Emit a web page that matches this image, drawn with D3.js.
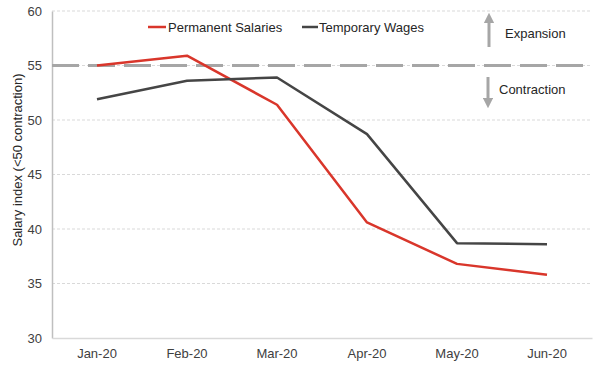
<!DOCTYPE html>
<html>
<head>
<meta charset="utf-8">
<script src="https://cdn.jsdelivr.net/npm/d3@7"></script>
<style>
body{margin:0;background:#fff;}
text{font-family:"Liberation Sans",Arial,sans-serif;}
</style>
</head>
<body>
<svg id="chart" width="600" height="391"></svg>
<script>
const categories = ["Jan-20","Feb-20","Mar-20","Apr-20","May-20","Jun-20"];
const permanentSalaries = [55.0, 55.9, 51.4, 40.6, 36.8, 35.8];
const temporaryWages = [51.9, 53.6, 53.9, 48.7, 38.7, 38.6];
const yTicks = [30,35,40,45,50,55,60];
const thresholdValue = 55;
const seriesNames = ["Permanent Salaries","Temporary Wages"];
const seriesColors = ["#d9362b","#454545"];

(function(){
const svg = d3.select("#chart");
const pL = 52, pR = 592, pT = 11, pB = 338;

const x = d3.scaleBand().domain(categories).range([pL, pR]);
const y = d3.scaleLinear().domain([30, 60]).range([pB, pT]);

// gridlines
svg.append("g").selectAll("line").data(yTicks.filter(d => d !== 30)).join("line")
  .attr("x1", pL).attr("x2", pR)
  .attr("y1", d => y(d)).attr("y2", d => y(d))
  .attr("stroke", "#d9d9d9").attr("stroke-width", 1).attr("stroke-dasharray", "3,2");

// y axis
const yAxis = svg.append("g").attr("transform", `translate(${pL},0)`)
  .call(d3.axisLeft(y).tickValues(yTicks).tickSize(0).tickPadding(10));
yAxis.select(".domain").attr("stroke", "#bfbfbf").attr("stroke-width", 1.5);
yAxis.selectAll("text").attr("font-size", 13).attr("fill", "#404040")
  .attr("font-family", "Liberation Sans, Arial, sans-serif");

// x axis
const xAxis = svg.append("g").attr("transform", `translate(0,${pB})`)
  .call(d3.axisBottom(x).tickSize(0).tickPadding(11));
xAxis.select(".domain").attr("stroke", "#d9d9d9").attr("stroke-width", 1.5);
xAxis.selectAll("text").attr("font-size", 13).attr("fill", "#404040")
  .attr("font-family", "Liberation Sans, Arial, sans-serif");

// y label
svg.append("text")
  .attr("transform", `translate(22,160) rotate(-90)`)
  .attr("text-anchor", "middle").attr("font-size", 13).attr("fill", "#262626")
  .text("Salary index (<50 contraction)");

// threshold dashed line
svg.append("line")
  .attr("x1", pL).attr("x2", pR)
  .attr("y1", y(thresholdValue)).attr("y2", y(thresholdValue))
  .attr("stroke", "#a6a6a6").attr("stroke-width", 3).attr("stroke-dasharray", "27,9");

// lines
const line = d3.line().x((d, i) => x(categories[i]) + x.bandwidth() / 2).y(d => y(d));
[permanentSalaries, temporaryWages].forEach((s, i) => {
  svg.append("path").datum(s).attr("d", line)
    .attr("fill", "none").attr("stroke", seriesColors[i]).attr("stroke-width", 2.5)
    .attr("stroke-linejoin", "round");
});

// legend
const legendPos = [[148, 166, 168], [302, 318, 319]];
seriesNames.forEach((n, i) => {
  const [a, b, t] = legendPos[i];
  svg.append("line").attr("x1", a).attr("x2", b).attr("y1", 27).attr("y2", 27)
    .attr("stroke", seriesColors[i]).attr("stroke-width", 2.5);
  svg.append("text").attr("x", t).attr("y", 31.5).attr("font-size", 13)
    .attr("fill", "#262626").text(n);
});

// arrows
const defs = svg.append("defs");
defs.append("marker").attr("id", "ah").attr("viewBox", "0 0 10 10")
  .attr("refX", 5).attr("refY", 5).attr("markerWidth", 3.5).attr("markerHeight", 3.5)
  .attr("orient", "auto-start-reverse")
  .append("path").attr("d", "M0,0 L10,5 L0,10 z").attr("fill", "#a6a6a6");

svg.append("line").attr("x1", 489).attr("x2", 489).attr("y1", 47).attr("y2", 18)
  .attr("stroke", "#a6a6a6").attr("stroke-width", 3).attr("marker-end", "url(#ah)");
svg.append("line").attr("x1", 488).attr("x2", 488).attr("y1", 77).attr("y2", 103)
  .attr("stroke", "#a6a6a6").attr("stroke-width", 3).attr("marker-end", "url(#ah)");

svg.append("text").attr("x", 505).attr("y", 38).attr("font-size", 13).attr("fill", "#262626").text("Expansion");
svg.append("text").attr("x", 499).attr("y", 94).attr("font-size", 13).attr("fill", "#262626").text("Contraction");
})();
</script>
</body>
</html>
